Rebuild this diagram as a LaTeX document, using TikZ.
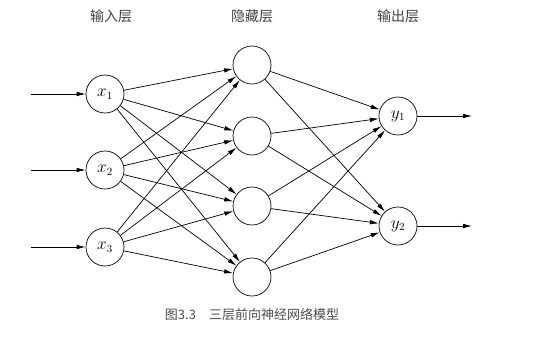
\documentclass[tikz,border=0pt]{standalone}
\usepackage{fontspec}
\newfontfamily\cjk{Noto Sans CJK SC}
\usetikzlibrary{arrows.meta}

\begin{document}
\begin{tikzpicture}[x=1pt,y=-1pt,
  neuron/.style={circle,draw,line width=0.7pt,minimum size=38pt,inner sep=0pt,font=\fontsize{16}{16}\selectfont},
  conn/.style={line width=0.7pt,-{Latex[length=9pt,width=4.5pt]}},
  layertitle/.style={font=\cjk\fontsize{14}{14}\selectfont,text=black!75}]
\useasboundingbox (0,0) rectangle (554,341);
% % layer titles
 \node[layertitle] (TIN) at (111,16) {输入层};
 \node[layertitle] (THID) at (252,16) {隐藏层};
 \node[layertitle] (TOUT) at (398,16) {输出层};
% % neurons
 \node[neuron] (X1) at (105,94) {$x_1$};
 \node[neuron] (X2) at (105,170) {$x_2$};
 \node[neuron] (X3) at (105,247) {$x_3$};
 \node[neuron] (H1) at (252,65) {};
 \node[neuron] (H2) at (252,136) {};
 \node[neuron] (H3) at (252,206) {};
 \node[neuron] (H4) at (252,277) {};
 \node[neuron] (Y1) at (398,116) {$y_1$};
 \node[neuron] (Y2) at (398,226) {$y_2$};
 % free ends of in/out arrows
 \coordinate (in1) at (31,94);
 \coordinate (in2) at (31,170);
 \coordinate (in3) at (31,247);
 \coordinate (out1) at (472,116);
 \coordinate (out2) at (472,226);
% % connections
 \foreach \i in {1,2,3}{
   \draw[conn] (in\i) -- (X\i);
   \foreach \j in {1,2,3,4}
     \draw[conn] (X\i) -- (H\j);
 }
 \foreach \j in {1,2,3,4}
   \foreach \k in {1,2}
     \draw[conn] (H\j) -- (Y\k);
 \draw[conn] (Y1) -- (out1);
 \draw[conn] (Y2) -- (out2);
% caption
 \node[font=\cjk\fontsize{13}{13}\selectfont,text=black!70] (CAP) at (252,315) {图3.3\quad 三层前向神经网络模型};
\end{tikzpicture}
\end{document}
